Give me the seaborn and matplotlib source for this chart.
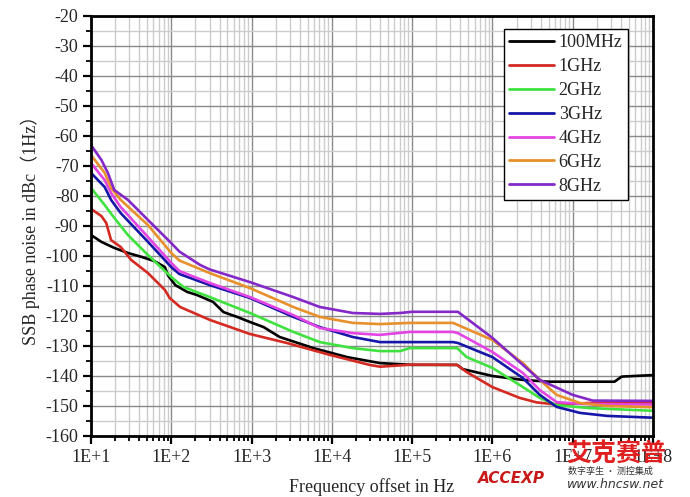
import numpy as np
import pandas as pd
import matplotlib
matplotlib.use("Agg")
import matplotlib.pyplot as plt
import matplotlib.ticker as mticker
import seaborn as sns

# ---------------- data ----------------
series_names = ["100MHz", "1GHz", "2GHz", "3GHz", "4GHz", "6GHz", "8GHz"]
series_colors = ["#000000", "#d42a22", "#3fe23f", "#1616a8", "#e444e4", "#e8902c", "#8428c8"]

# log10(offset frequency / Hz) and SSB phase noise (dBc/Hz)
lg_100MHz = [1.0, 1.13, 1.29, 1.46, 1.63, 1.79, 1.92, 1.96, 2.05, 2.20, 2.32, 2.52, 2.65, 2.82, 2.98, 3.15, 3.35, 3.77, 4.19, 4.60, 5.0, 5.56, 5.63, 6.0, 6.38, 6.70, 7.52, 7.61, 8.0]
pn_100MHz = [-93.0, -95.3, -97.3, -99.0, -100.3, -101.7, -103.7, -106.5, -109.7, -112.0, -113.0, -115.3, -118.7, -120.3, -122.0, -123.7, -127.0, -130.7, -133.7, -135.7, -136.3, -136.3, -137.7, -140.0, -141.3, -141.9, -141.9, -140.2, -139.7]

lg_1GHz = [1.0, 1.13, 1.19, 1.25, 1.37, 1.50, 1.71, 1.92, 1.98, 2.11, 2.48, 2.98, 3.44, 3.98, 4.47, 4.60, 5.0, 5.56, 5.68, 6.0, 6.34, 6.55, 6.80, 7.20, 8.0]
pn_1GHz = [-84.3, -86.7, -89.0, -94.7, -97.0, -101.3, -105.7, -111.3, -114.0, -117.0, -121.3, -126.0, -129.0, -133.0, -136.3, -136.9, -136.2, -136.3, -138.7, -143.7, -147.3, -148.8, -149.5, -149.0, -148.9]

lg_2GHz = [1.0, 1.17, 1.29, 1.46, 1.71, 2.0, 2.15, 2.48, 2.98, 3.52, 3.85, 4.26, 4.60, 4.85, 4.97, 5.56, 5.68, 6.0, 6.38, 6.59, 6.80, 7.21, 8.0]
pn_2GHz = [-77.3, -83.0, -87.3, -93.0, -99.7, -107.0, -110.3, -113.7, -119.0, -125.3, -128.7, -130.7, -131.7, -131.7, -130.7, -130.7, -133.7, -137.3, -143.7, -147.3, -149.7, -150.7, -151.6]

lg_3GHz = [1.0, 1.17, 1.25, 1.37, 1.71, 2.0, 2.10, 2.48, 2.98, 3.52, 3.85, 4.26, 4.60, 5.51, 5.57, 6.0, 6.38, 6.59, 6.80, 7.09, 7.43, 8.0]
pn_3GHz = [-72.3, -77.0, -81.3, -85.7, -95.3, -103.7, -106.0, -109.7, -114.0, -120.3, -123.7, -127.0, -128.7, -128.7, -129.0, -133.7, -140.7, -146.3, -150.3, -152.3, -153.3, -153.9]

lg_4GHz = [1.0, 1.17, 1.25, 1.37, 1.71, 2.0, 2.10, 2.48, 2.98, 3.52, 3.85, 4.26, 4.60, 4.97, 5.51, 5.57, 5.68, 6.0, 6.38, 6.59, 6.80, 7.09, 8.0]
pn_4GHz = [-69.0, -74.7, -79.0, -83.7, -93.7, -102.3, -105.0, -109.0, -113.7, -119.7, -124.0, -125.7, -126.3, -125.3, -125.3, -125.7, -127.3, -132.0, -139.0, -144.7, -148.7, -149.3, -149.5]

lg_6GHz = [1.0, 1.17, 1.25, 1.37, 1.71, 2.0, 2.10, 2.48, 2.98, 3.52, 3.85, 4.26, 4.60, 4.97, 5.51, 5.57, 6.0, 6.38, 6.59, 6.80, 7.09, 7.43, 8.0]
pn_6GHz = [-66.3, -72.3, -77.3, -81.3, -89.7, -99.0, -101.5, -105.7, -110.7, -117.0, -120.3, -122.3, -122.7, -122.3, -122.3, -123.0, -128.0, -135.7, -141.3, -146.3, -149.0, -150.0, -150.4]

lg_8GHz = [1.0, 1.13, 1.21, 1.29, 1.46, 1.71, 2.0, 2.10, 2.36, 2.48, 2.98, 3.52, 3.85, 4.26, 4.60, 4.85, 5.0, 5.57, 6.0, 6.59, 7.0, 7.25, 8.0]
pn_8GHz = [-63.0, -68.0, -72.3, -78.0, -81.3, -88.0, -95.7, -98.5, -103.0, -104.5, -108.7, -113.7, -117.0, -119.0, -119.3, -119.0, -118.6, -118.6, -127.3, -141.3, -146.3, -148.2, -148.3]

lg_list = [lg_100MHz, lg_1GHz, lg_2GHz, lg_3GHz, lg_4GHz, lg_6GHz, lg_8GHz]
pn_list = [pn_100MHz, pn_1GHz, pn_2GHz, pn_3GHz, pn_4GHz, pn_6GHz, pn_8GHz]

x_tick_values = [1e1, 1e2, 1e3, 1e4, 1e5, 1e6, 1e7, 1e8]
x_tick_labels = ["1E+1", "1E+2", "1E+3", "1E+4", "1E+5", "1E+6", "1E+7", "1E+8"]
y_ticks = list(range(-160, -19, 10))

# ---------------- build table ----------------
rows = []
for name, lg, pn in zip(series_names, lg_list, pn_list):
    for a, b in zip(lg, pn):
        rows.append({"Band": name, "freq": 10 ** a, "pn": b})
df = pd.DataFrame(rows)

# ---------------- style ----------------
sns.set_style("white")
plt.rcParams["font.family"] = ["Liberation Serif", "Noto Sans CJK SC", "DejaVu Sans"]
plt.rcParams["axes.unicode_minus"] = False

fig = plt.figure(figsize=(6.9, 4.97), dpi=100)
ax = fig.add_axes([91 / 690, 1 - 436 / 497, (653 - 91) / 690, (436 - 16) / 497])

sns.lineplot(data=df, x="freq", y="pn", hue="Band", hue_order=series_names,
             palette=dict(zip(series_names, series_colors)), sort=False,
             estimator=None, linewidth=1.9, ax=ax, legend=True)

ax.set_xscale("log")
ax.set_xlim(1e1, 1e8)
ax.set_ylim(-160, -20)

ax.xaxis.set_major_locator(mticker.FixedLocator(x_tick_values))
ax.xaxis.set_major_formatter(mticker.FixedFormatter(x_tick_labels))
ax.xaxis.set_minor_locator(mticker.LogLocator(base=10, subs=np.arange(2, 10), numticks=100))
ax.xaxis.set_minor_formatter(mticker.NullFormatter())
ax.yaxis.set_major_locator(mticker.FixedLocator(y_ticks))
ax.yaxis.set_minor_locator(mticker.MultipleLocator(5))
ax.yaxis.set_major_formatter(mticker.FuncFormatter(lambda v, p: "%d" % v))

ax.grid(which="major", color="#8a8a8a", linewidth=1.0)
ax.grid(which="minor", color="#cccccc", linewidth=1.0)
ax.set_axisbelow(True)

for s in ax.spines.values():
    s.set_visible(True)
    s.set_color("black")
    s.set_linewidth(2.0)

ax.tick_params(axis="both", which="major", direction="out", length=6, width=1.6,
               labelsize=13, color="black", pad=3, left=True, bottom=True)
ax.tick_params(axis="both", which="minor", direction="out", length=3.5, width=1.3,
               color="black", left=True, bottom=True)

ax.set_xlabel("Frequency offset in Hz", fontsize=13, labelpad=9)
ax.set_ylabel("SSB phase noise in dBc（1Hz）", fontsize=13, labelpad=4)

leg = ax.legend(loc="upper right", bbox_to_anchor=(628 / 690, 1 - 29 / 497),
                bbox_transform=fig.transFigure, borderaxespad=0, fontsize=13,
                frameon=True, fancybox=False, framealpha=1, edgecolor="black",
                handlelength=2.5, handletextpad=0.25, labelspacing=0.38,
                borderpad=0.3, title=None)
leg.get_frame().set_linewidth(1.0)
for lh in leg.get_lines():
    lh.set_linewidth(2.0)

# watermark texts (bottom-right corner, as in the reference image)
fig.text(0.693, 0.022, "ACCEXP", color="#c81818", fontsize=11, style="italic",
         fontweight="bold", family=["DejaVu Sans"], ha="left", va="bottom", zorder=11)
fig.text(0.82, 0.062, "艾克赛普", color="#e02020", fontsize=18, fontweight="bold",
         family=["Noto Sans CJK SC"], ha="left", va="bottom", zorder=10)
fig.text(0.823, 0.043, "数字孪生 · 测控集成", color="#333333", fontsize=6.5,
         family=["Noto Sans CJK SC"], ha="left", va="bottom", zorder=10)
fig.text(0.822, 0.012, "www.hncsw.net", color="#333333", fontsize=9, style="italic",
         family=["DejaVu Sans"], ha="left", va="bottom", zorder=10)

fig.savefig("out.png", dpi=100, facecolor="white")
